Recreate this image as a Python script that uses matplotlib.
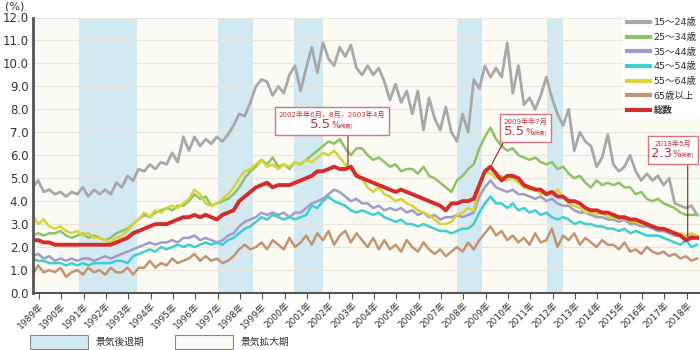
import matplotlib
matplotlib.use("Agg")
import matplotlib.pyplot as plt
from matplotlib.patches import Rectangle
from matplotlib.offsetbox import TextArea, VPacker, HPacker, AnnotationBbox

plt.rcParams['font.family'] = ['DejaVu Sans', 'Noto Sans CJK JP']

# quarterly readings (Jan, Apr, Jul, Oct) 1989 - 2018
years = list(range(1989, 2019))
t = [y + q / 4 for y in years for q in range(4)]

age_15_24 = [4.6, 4.9, 4.4, 4.5, 4.3, 4.4, 4.2, 4.4, 4.3, 4.6, 4.2, 4.5, 4.3, 4.5, 4.3, 4.8,
             4.6, 5.1, 4.9, 5.4, 5.3, 5.6, 5.4, 5.7, 5.6, 6.1, 5.7, 6.8, 6.2, 6.8, 6.4, 6.7,
             6.5, 6.8, 6.6, 6.9, 7.3, 7.8, 7.7, 8.3, 9.0, 9.3, 9.2, 8.6, 9.0, 8.7, 9.5, 9.9,
             8.8, 9.8, 10.7, 9.6, 10.9, 10.2, 9.9, 10.7, 10.3, 10.8, 9.8, 9.5, 9.9, 9.5, 9.8, 9.2,
             8.4, 9.1, 8.3, 8.8, 7.8, 8.8, 7.1, 8.5, 7.6, 7.1, 8.1, 7.0, 6.6, 7.8, 7.0, 9.3,
             8.9, 9.9, 9.4, 9.8, 9.4, 10.9, 8.7, 9.9, 8.2, 8.5, 8.0, 8.6, 9.4, 8.5, 7.8, 7.3,
             8.0, 6.2, 7.0, 6.6, 6.4, 5.5, 5.9, 6.9, 5.6, 5.3, 5.5, 6.0, 5.3, 4.9, 5.2, 4.9,
             5.1, 4.7, 5.0, 3.9, 3.8, 3.7, 3.8, 3.4]
age_25_34 = [2.5, 2.6, 2.5, 2.6, 2.6, 2.7, 2.5, 2.4, 2.5, 2.6, 2.4, 2.5, 2.4, 2.3, 2.4, 2.6,
             2.7, 2.8, 3.0, 3.2, 3.4, 3.3, 3.5, 3.6, 3.7, 3.6, 3.8, 3.8, 4.0, 4.3, 4.1, 4.2,
             3.8, 3.9, 4.0, 4.1, 4.3, 4.6, 5.0, 5.3, 5.5, 5.8, 5.6, 5.9, 5.5, 5.6, 5.4, 5.7,
             5.6, 5.8, 6.0, 6.2, 6.4, 6.6, 6.5, 6.7, 6.3, 6.0, 6.3, 6.3, 6.0, 5.8, 5.9, 5.7,
             5.5, 5.6, 5.3, 5.4, 5.4, 5.2, 5.5, 5.1, 5.0, 4.8, 4.6, 4.4, 4.9, 5.1, 5.4, 5.6,
             6.3, 6.8, 7.2, 6.7, 6.4, 6.2, 6.3, 6.0, 5.9, 5.8, 5.9, 5.7, 5.6, 5.7, 5.4, 5.5,
             5.2, 5.0, 5.1, 4.8, 4.6, 4.9, 4.7, 4.8, 4.7, 4.8, 4.6, 4.6, 4.3, 4.4, 4.1, 4.0,
             4.1, 3.9, 3.8, 3.7, 3.5, 3.4, 3.4, 3.4]
age_35_44 = [1.6, 1.7, 1.5, 1.6, 1.4, 1.5, 1.4, 1.5, 1.4, 1.5, 1.5, 1.4, 1.5, 1.6, 1.5, 1.6,
             1.7, 1.8, 1.9, 2.0, 2.1, 2.2, 2.1, 2.2, 2.2, 2.3, 2.2, 2.4, 2.4, 2.5, 2.3, 2.4,
             2.3, 2.2, 2.3, 2.5, 2.6, 2.9, 3.1, 3.2, 3.3, 3.5, 3.4, 3.5, 3.4, 3.5, 3.3, 3.5,
             3.5, 3.7, 3.9, 4.0, 4.1, 4.3, 4.5, 4.4, 4.2, 4.0, 4.1, 3.9, 3.9, 3.7, 3.8, 3.6,
             3.7, 3.6, 3.7, 3.5, 3.6, 3.4, 3.5, 3.3, 3.4, 3.2, 3.3, 3.3, 3.4, 3.3, 3.4, 3.5,
             4.2, 4.6, 4.9, 4.6, 4.5, 4.4, 4.5, 4.3, 4.3, 4.2, 4.1, 4.2, 4.0, 4.1, 3.9, 3.8,
             3.8, 3.6, 3.5, 3.5, 3.4, 3.3, 3.3, 3.2, 3.2, 3.1, 3.2, 3.0, 3.0, 2.9, 2.9, 2.8,
             2.7, 2.7, 2.6, 2.5, 2.5, 2.4, 2.5, 2.4]
age_45_54 = [1.5, 1.4, 1.4, 1.3, 1.3, 1.3, 1.2, 1.3, 1.2, 1.3, 1.2, 1.3, 1.3, 1.3, 1.3, 1.4,
             1.4, 1.3, 1.6, 1.7, 1.8, 1.9, 1.8, 2.0, 1.9, 2.0, 2.1, 2.0, 2.1, 2.0, 2.1, 2.2,
             2.1, 2.2, 2.1, 2.3, 2.4, 2.6, 2.8, 2.9, 3.1, 3.3, 3.2, 3.4, 3.3, 3.2, 3.3, 3.2,
             3.3, 3.4, 3.8, 3.7, 4.0, 4.2, 4.0, 3.9, 3.8, 3.6, 3.5, 3.6, 3.5, 3.4, 3.5, 3.3,
             3.2, 3.1, 3.2, 3.0, 3.0, 2.9, 3.0, 2.9, 2.8, 2.7, 2.7, 2.6, 2.7, 2.8, 2.8, 3.0,
             3.5, 3.9, 4.2, 3.9, 3.9, 3.7, 3.9, 3.6, 3.7, 3.5, 3.6, 3.4, 3.5, 3.3, 3.2, 3.3,
             3.2, 3.0, 3.1, 3.0, 3.0, 2.9, 2.9, 2.8, 2.8, 2.7, 2.8, 2.6, 2.7, 2.6, 2.5, 2.5,
             2.5, 2.4, 2.3, 2.2, 2.1, 2.3, 2.0, 2.1]
age_55_64 = [3.4, 3.0, 3.2, 2.9, 2.8, 2.9, 2.7, 2.6, 2.7, 2.5, 2.6, 2.4, 2.4, 2.3, 2.2, 2.4,
             2.5, 2.7, 3.0, 3.2, 3.5, 3.3, 3.6, 3.5, 3.7, 3.8, 3.7, 3.9, 4.1, 4.5, 4.3, 3.9,
             3.8, 3.9, 4.1, 4.3, 4.6, 5.0, 5.3, 5.4, 5.6, 5.8, 5.5, 5.6, 5.4, 5.6, 5.5, 5.7,
             5.6, 5.8, 5.7, 5.9, 6.1, 6.0, 6.2, 5.9, 5.6, 5.4, 5.2, 5.0, 4.6, 4.4, 4.6, 4.3,
             4.2, 4.0, 4.1, 3.9, 3.8, 3.6, 3.5, 3.4, 3.2, 3.0, 3.0, 3.1, 3.4, 3.5, 3.7, 3.6,
             4.7, 5.3, 5.2, 5.0, 5.1, 4.9, 5.0, 4.8, 4.6, 4.5, 4.6, 4.3, 4.4, 4.3, 4.5, 4.2,
             3.9, 3.8, 3.7, 3.5, 3.5, 3.4, 3.5, 3.3, 3.3, 3.2, 3.3, 3.1, 3.1, 3.0, 3.0, 2.9,
             2.8, 2.8, 2.7, 2.6, 2.6, 2.5, 2.6, 2.5]
age_65_over = [0.8, 1.2, 0.9, 1.0, 0.9, 1.1, 0.7, 0.9, 1.0, 0.8, 1.1, 0.9, 1.0, 0.8, 1.1, 0.9,
               0.9, 1.1, 0.8, 1.1, 1.1, 1.4, 1.1, 1.3, 1.2, 1.5, 1.3, 1.4, 1.5, 1.7, 1.4, 1.6,
               1.4, 1.5, 1.3, 1.4, 1.6, 1.9, 2.1, 1.9, 2.0, 2.2, 1.9, 2.3, 2.1, 1.9, 2.4, 2.0,
               2.2, 2.5, 2.1, 2.6, 2.3, 2.7, 2.1, 2.5, 2.7, 2.2, 2.6, 2.3, 2.0, 2.4, 1.9, 2.3,
               1.9, 2.1, 1.8, 2.3, 2.0, 1.8, 2.2, 1.9, 1.7, 1.9, 1.6, 1.8, 2.0, 1.8, 2.2, 1.9,
               2.3, 2.6, 2.9, 2.5, 2.7, 2.3, 2.5, 2.2, 2.4, 2.1, 2.6, 2.2, 2.3, 2.8, 2.0, 2.5,
               2.3, 2.6, 2.1, 2.4, 2.2, 2.0, 2.3, 2.1, 2.1, 1.9, 2.2, 1.8, 1.9, 1.7, 2.0, 1.8,
               1.7, 1.8, 1.6, 1.7, 1.5, 1.6, 1.4, 1.5]
total = [2.3, 2.3, 2.2, 2.2, 2.1, 2.1, 2.1, 2.1, 2.1, 2.1, 2.1, 2.1, 2.1, 2.1, 2.1, 2.2,
         2.3, 2.4, 2.6, 2.7, 2.8, 2.9, 3.0, 3.0, 3.0, 3.1, 3.2, 3.3, 3.3, 3.4, 3.3, 3.4,
         3.3, 3.2, 3.4, 3.5, 3.6, 4.0, 4.2, 4.4, 4.6, 4.7, 4.8, 4.6, 4.7, 4.7, 4.7, 4.8,
         4.9, 5.0, 5.1, 5.3, 5.3, 5.4, 5.5, 5.4, 5.4, 5.5, 5.1, 5.0, 4.9, 4.8, 4.7, 4.6,
         4.5, 4.4, 4.5, 4.4, 4.3, 4.2, 4.1, 4.0, 3.9, 3.8, 3.6, 3.9, 3.9, 4.0, 4.0, 4.1,
         4.7, 5.3, 5.5, 5.2, 4.9, 5.1, 5.1, 5.0, 4.7, 4.6, 4.5, 4.5, 4.3, 4.4, 4.2, 4.2,
         4.0, 4.0, 3.9, 3.7, 3.6, 3.6, 3.5, 3.5, 3.4, 3.3, 3.3, 3.2, 3.2, 3.1, 3.0, 2.9,
         2.8, 2.8, 2.7, 2.6, 2.5, 2.3, 2.4, 2.4]

labels = ["15～24歳", "25～34歳", "35～44歳", "45～54歳", "55～64歳", "65歳以上", "総数"]
colors = ["#a8a8a8", "#8dc266", "#a09cca", "#3fcfd2", "#d6d436", "#c39372", "#d42b2b"]
widths = [2.0, 1.8, 1.8, 1.8, 1.8, 1.8, 2.8]

recessions = [(1991.08, 1993.68), (1997.29, 1998.88), (2000.71, 2002.01),
              (2008.02, 2009.10), (2012.05, 2012.75)]

# (point x, point y, line top x, line top y, box x, box y, date, value)
notes = [(2003.12, 5.45, 2003.12, 6.95, 2002.40, 7.49, "2002年年6月，8月，2003年4月", "5.5"),
         (2009.5, 5.5, 2010.14, 6.67, 2011.08, 7.19, "2009年年7月", "5.5"),
         (2018.33, 2.35, 2018.33, 5.71, 2017.66, 6.23, "2018年5月", "2.3")]


def main():
	fig = plt.figure(figsize=(7, 3.5), dpi=100)
	ax = fig.add_axes([0.0465, 0.163, 0.9535, 0.787])
	ax.set_facecolor("#fbfaf3")

	for a, b in recessions:
		ax.axvspan(a, b, color="#d3e9f1", lw=0, zorder=0)

	for v in range(13):
		ax.axhline(v, color="#e8e6dc", lw=0.8, zorder=0.5)

	series = [age_15_24, age_25_34, age_35_44, age_45_54, age_55_64, age_65_over, total]
	for s, lab, c, w in zip(series, labels, colors, widths):
		ax.plot(t, s, color=c, lw=w, label=lab, zorder=2)

	ax.set_xlim(1989.0, 2018.88)
	ax.set_ylim(0, 12)
	ax.set_yticks(range(13))
	ax.set_yticklabels(["%.1f" % v for v in range(13)], fontsize=8.5, color="#333333")
	ax.set_xticks([y + 0.29 for y in years])
	ax.set_xticklabels(["%d年" % y for y in years], rotation=45, ha="right",
	                   rotation_mode="anchor", fontsize=6.5, color="#333333")
	ax.tick_params(axis="y", length=0, pad=3)
	ax.tick_params(axis="x", length=4, color="#555555", pad=2)
	for side in ["top", "right"]:
		ax.spines[side].set_visible(False)
	ax.spines["left"].set_color("#555555")
	ax.spines["left"].set_linewidth(2)
	ax.spines["bottom"].set_color("#555555")
	ax.spines["bottom"].set_linewidth(1.5)

	leg = ax.legend(loc="upper right", bbox_to_anchor=(1.008, 1.028), fontsize=6.8,
	                frameon=True, facecolor="white", edgecolor="none", framealpha=1,
	                handlelength=2.4, handletextpad=0.4, labelspacing=0.6, borderpad=0.4)
	for line in leg.get_lines():
		line.set_linewidth(3)
	for txt in leg.get_texts():
		txt.set_color("#333333")
	leg.get_texts()[-1].set_fontweight("bold")

	fig.text(0.007, 0.996, "(%)", fontsize=8, color="#333333", va="top")

	# leader lines and boxes
	for px, py, lx, ly, bx, by, date, val in notes:
		ax.annotate("", xy=(px, py), xytext=(lx, ly),
		            arrowprops=dict(arrowstyle="-", color="#8a2222", lw=0.8), zorder=4)
		top = TextArea(date, textprops=dict(fontsize=5.1, color="#c0343a"))
		bottom = HPacker(children=[TextArea(val, textprops=dict(fontsize=9.5, color="#c0343a")),
		                           TextArea("%", textprops=dict(fontsize=6.5, color="#c0343a")),
		                           TextArea("(総数)", textprops=dict(fontsize=3.5, color="#c0343a"))],
		                 align="baseline", pad=0, sep=0)
		box = VPacker(children=[top, bottom], align="center", pad=0, sep=0)
		ab = AnnotationBbox(box, (bx, by), xycoords="data", frameon=True, pad=0.25,
		                    bboxprops=dict(ec="#d9727a", fc="white", lw=1), zorder=5)
		ax.add_artist(ab)

	# bottom key
	fig.patches.append(Rectangle((0.043, 0.003), 0.083, 0.04, transform=fig.transFigure,
	                             fc="#d3e9f1", ec="#888888", lw=0.8, figure=fig))
	fig.text(0.136, 0.023, "景気後退期", fontsize=7, va="center", color="#333333")
	fig.patches.append(Rectangle((0.25, 0.003), 0.083, 0.04, transform=fig.transFigure,
	                             fc="#fbfaf3", ec="#888888", lw=0.8, figure=fig))
	fig.text(0.343, 0.023, "景気拡大期", fontsize=7, va="center", color="#333333")

	fig.savefig("out.png", dpi=100)


if __name__ == "__main__":
	main()
